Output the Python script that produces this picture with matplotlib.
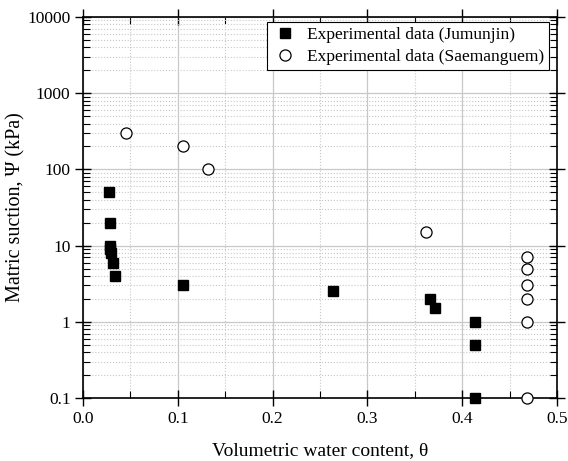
import matplotlib
matplotlib.use('Agg')
import matplotlib.pyplot as plt
from matplotlib.ticker import FixedLocator, LogLocator, MultipleLocator, NullFormatter

jum_theta = [0.027, 0.028, 0.028, 0.029, 0.030, 0.032, 0.034, 0.105,
             0.264, 0.366, 0.371, 0.413, 0.413, 0.413]
jum_psi = [50, 20, 10, 9, 8, 6, 4, 3, 2.5, 2, 1.5, 1, 0.5, 0.1]

sae_theta = [0.045, 0.106, 0.132, 0.362, 0.468, 0.468, 0.468, 0.468, 0.468, 0.468]
sae_psi = [300, 200, 100, 15, 7, 5, 3, 2, 1, 0.1]

y_ticks = [0.1, 1, 10, 100, 1000, 10000]
y_labels = ['0.1', '1', '10', '100', '1000', '10000']
x_ticks = [0.0, 0.1, 0.2, 0.3, 0.4, 0.5]

plt.rcParams['font.family'] = ['Liberation Serif', 'DejaVu Serif']
plt.rcParams['font.size'] = 12

fig = plt.figure(figsize=(5.68, 4.61), dpi=100)
ax = fig.add_axes([83 / 568, 63 / 461, 474 / 568, 381 / 461])

ax.plot(jum_theta, jum_psi, 's', color='black', markersize=7.5,
        label='Experimental data (Jumunjin)', zorder=3, clip_on=False)
ax.plot(sae_theta, sae_psi, 'o', markerfacecolor='white', markeredgecolor='black',
        markeredgewidth=0.9, markersize=8, label='Experimental data (Saemanguem)',
        zorder=3, clip_on=False)

ax.set_yscale('log')
ax.set_xlim(0, 0.5)
ax.set_ylim(0.1, 10000)
ax.set_xticks(x_ticks)
ax.set_xticklabels(['%.1f' % v for v in x_ticks])
ax.xaxis.set_minor_locator(MultipleLocator(0.05))
ax.yaxis.set_major_locator(FixedLocator(y_ticks))
ax.set_yticklabels(y_labels)
ax.yaxis.set_minor_locator(LogLocator(base=10, subs=range(2, 10), numticks=20))
ax.yaxis.set_minor_formatter(NullFormatter())

ax.grid(True, which='major', color='#c8c8c8', linestyle='-', linewidth=0.9)
ax.grid(True, which='minor', color='#c8c8c8', linestyle=':', linewidth=0.8)
ax.set_axisbelow(True)

for s in ax.spines.values():
    s.set_linewidth(1.2)
ax.tick_params(which='major', direction='inout', top=True, right=True,
               labelsize=12.5, length=12, width=1.0, pad=3)
ax.tick_params(which='minor', direction='in', top=True, right=True,
               length=5, width=0.8)

ax.set_xlabel('Volumetric water content, θ', fontsize=14, labelpad=11)
ax.set_ylabel('Matric suction, Ψ (kPa)', fontsize=14.5, labelpad=1)

leg = ax.legend(loc='upper right', bbox_to_anchor=(0.983, 0.987), fontsize=12.5,
                frameon=True, fancybox=False, edgecolor='black', framealpha=1,
                borderaxespad=0, handlelength=1.5, handletextpad=0.5,
                borderpad=0.3, labelspacing=0.3)
leg.get_frame().set_linewidth(0.8)

fig.savefig('out.png', dpi=100)
